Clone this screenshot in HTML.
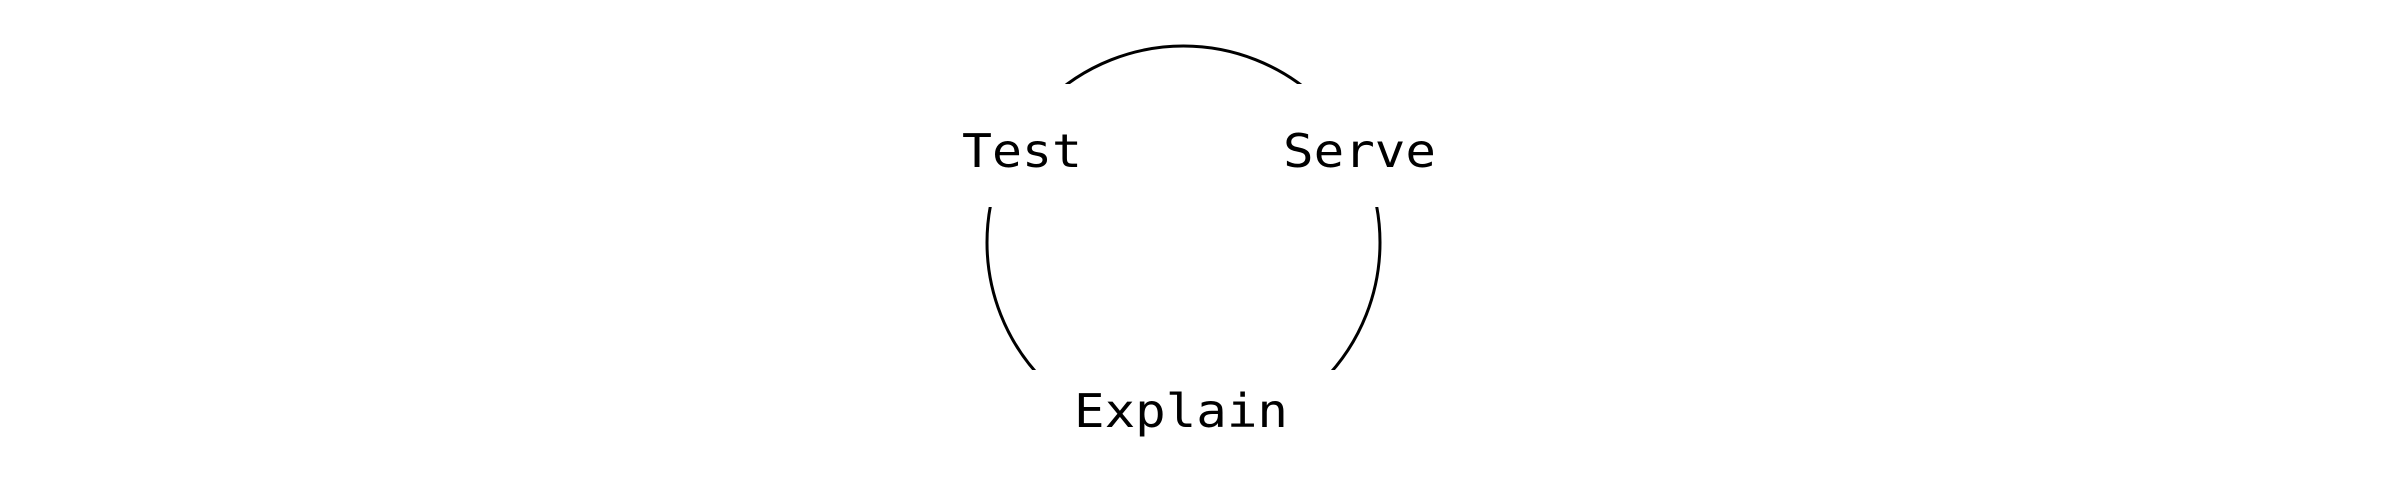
<!DOCTYPE html>
<html>
<head>
<meta charset="utf-8">
<style>
  html,body{margin:0;padding:0;background:#fff;}
  svg{display:block;}
  text{font-family:"DejaVu Sans Mono","Liberation Mono",monospace;font-size:46px;fill:#000;}
</style>
</head>
<body>
<svg width="2400" height="500" viewBox="0 0 2400 500" xmlns="http://www.w3.org/2000/svg">
  <rect width="2400" height="500" fill="#fff"/>
  <circle cx="1183.5" cy="242.5" r="196.5" fill="none" stroke="#000" stroke-width="3"/>
  <rect x="0" y="84" width="2400" height="123" fill="#fff"/>
  <rect x="0" y="370" width="2400" height="130" fill="#fff"/>
  <text x="962" y="167" textLength="120" lengthAdjust="spacingAndGlyphs">Test</text>
  <text x="1283" y="167" textLength="153" lengthAdjust="spacingAndGlyphs">Serve</text>
  <text x="1074" y="427" textLength="214" lengthAdjust="spacingAndGlyphs">Explain</text>
</svg>
</body>
</html>
